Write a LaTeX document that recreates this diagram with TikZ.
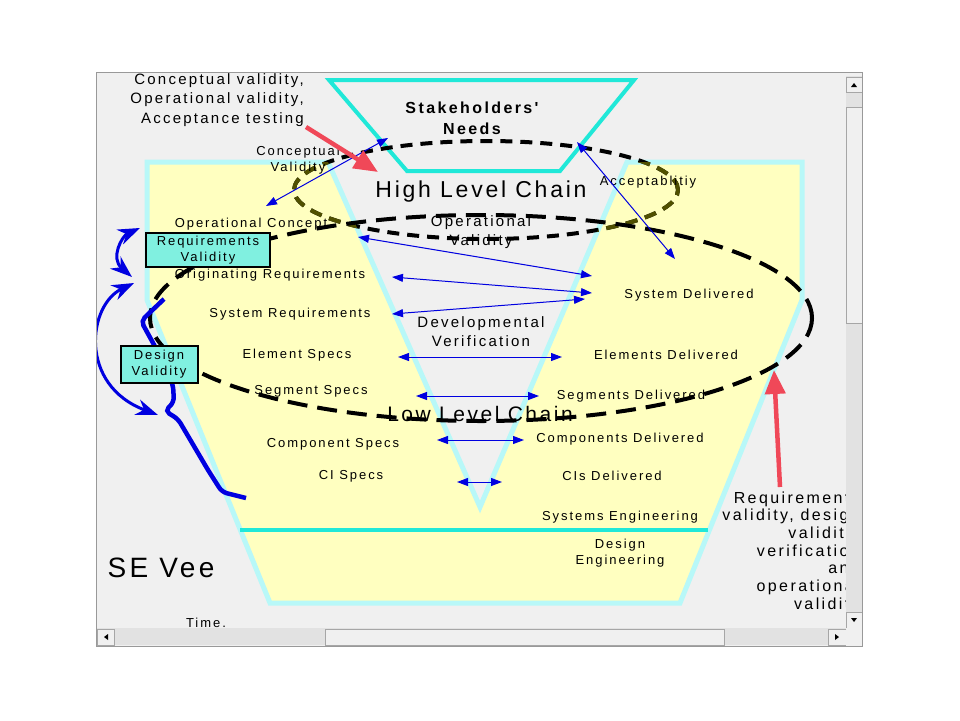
\documentclass[tikz,border=0pt]{standalone}
\usepackage{fontspec}
\setmainfont{Liberation Sans}
\newfontfamily\vfont[LetterSpace=15]{Liberation Sans}
\newfontfamily\vbig[LetterSpace=12]{Liberation Sans}
\usepackage{tikz}
\usetikzlibrary{arrows.meta}

\definecolor{winbg}{HTML}{F0F0F0}
\definecolor{track}{HTML}{E2E2E2}
\definecolor{veeyellow}{HTML}{FFFFC0}
\definecolor{veeedge}{HTML}{B8F8F8}
\definecolor{turq}{HTML}{20E8D8}
\definecolor{boxcyan}{HTML}{80F0E0}
\definecolor{vblue}{HTML}{0000E0}
\definecolor{vred}{HTML}{F04858}
\definecolor{olive}{HTML}{505000}

\begin{document}
\begin{tikzpicture}
    [x = 1pt, y = -1pt,
     txt/.style = {font = \vfont\fontsize{13}{16}\selectfont, align = center, inner sep = 0pt},
     note/.style = {font = \vfont\fontsize{15}{19.5}\selectfont, inner sep = 0pt},
     big/.style = {font = \vbig\fontsize{23}{26}\selectfont, inner sep = 0pt},
     valbox/.style = {txt, draw, line width = 2pt, fill = boxcyan},
     dbl/.style = {vblue, line width = 1pt, {Triangle[length=11pt,width=8pt]}-{Triangle[length=11pt,width=8pt]}},
     redarr/.style = {vred, line width = 4.5pt, -{Triangle[length=24pt,width=20pt]}},
     bluearc/.style = {vblue, line width = 3pt, {Stealth[length=22pt,width=16pt]}-{Stealth[length=22pt,width=16pt]}},
     lowdash/.style = {line width = 4pt, dash pattern = on 20pt off 10pt},
     highdash/.style = {line width = 4pt, dash pattern = on 12pt off 8pt},
     sbar/.style = {fill = winbg, draw = gray!70, line width = 1pt}]
    \fill[white] (0,0) rectangle (960,720);
    \fill[winbg] (96,72) rectangle (862,646);
    \begin{scope}
    \clip (96,72) rectangle (862,646);
    % the vee
    \path[fill = veeyellow, draw = veeedge, line width = 5pt]
        (147,162) -- (328,162) -- (480,507) -- (627,162) -- (802,162) -- (802,300)
        -- (680,603) -- (270,603) -- (147,300) -- cycle;
    \draw[turq, line width = 4pt] (240,530) -- (708,530);
    \draw[turq, line width = 4pt] (329,80) -- (634,80) -- (560,171) -- (407,171) -- cycle;
    % chains
    \draw[highdash] (486,190) ellipse [x radius = 192pt, y radius = 49pt];
    \begin{scope}
        \clip (147,162) -- (328,162) -- (480,507) -- (627,162) -- (802,162) -- (802,300)
            -- (680,603) -- (270,603) -- (147,300) -- cycle;
        \draw[highdash, olive] (486,190) ellipse [x radius = 192pt, y radius = 49pt];
    \end{scope}
    \draw[lowdash] (481,318) ellipse [x radius = 331pt, y radius = 103pt];
    % brace and left arrows
    \draw[vblue, line width = 4.5pt, rounded corners = 5pt]
        (164,299) -- (141,321) -- (158,352) -- (173,385) -- (174,402) -- (165,411)
        -- (178,419) -- (208,470) -- (222,492) -- (246,498);
    \coordinate (ra1) at (132,277);
    \coordinate (ra2) at (140,228);
    \coordinate (da1) at (134,283);
    \coordinate (da2) at (158,415);
    \draw[bluearc] (ra1) .. controls (110,258) and (122,236) .. (ra2);
    \draw[bluearc] (da1) .. controls (88,305) and (78,385) .. (da2);
    % labels
    \node[txt, font = \vfont\bfseries\fontsize{16}{21}\selectfont] (stake) at (472,118) {Stakeholders'\\Needs};
    \node[note, align = right, anchor = east] (topnote) at (304,100) {Conceptual validity,\\Operational validity,\\Acceptance testing};
    \node[txt] (concval) at (298,160) {Conceptual\\Validity};
    \node[big] (hlc) at (481,192) {High Level Chain};
    \node[txt] (accept) at (648,182) {Acceptablitiy};
    \node[txt, font = \vfont\fontsize{15}{19}\selectfont] (opval) at (481,232) {Operational\\Validity};
    \node[txt] (opcon) at (251,224) {Operational Concept};
    \node[valbox, minimum width = 124pt, minimum height = 34pt] (reqval) at (208,250) {Requirements\\Validity};
    \node[txt] (origreq) at (270,275) {Originating Requirements};
    \node[txt] (sysreq) at (290,314) {System Requirements};
    \node[txt, font = \vfont\fontsize{15}{19}\selectfont] (devver) at (481,332) {Developmental\\Verification};
    \node[txt] (sysdel) at (689,295) {System Delivered};
    \node[valbox, minimum width = 77pt, minimum height = 37pt] (desval) at (159,364) {Design\\Validity};
    \node[txt] (elspec) at (297,355) {Element Specs};
    \node[txt] (eldel) at (666,355) {Elements Delivered};
    \node[txt] (segspec) at (311,391) {Segment Specs};
    \node[txt] (segdel) at (631,396) {Segments Delivered};
    \node[big, font = \vbig\fontsize{21}{24}\selectfont] (llc) at (480,414) {Low Level Chain};
    \node[txt] (compspec) at (333,444) {Component Specs};
    \node[txt] (compdel) at (620,439) {Components Delivered};
    \node[txt] (cispec) at (351,476) {CI Specs};
    \node[txt] (cidel) at (612,476) {CIs Delivered};
    \node[txt] (syseng) at (620,517) {Systems Engineering};
    \node[txt] (deseng) at (620,553) {Design\\Engineering};
    \node[big, font = \vbig\fontsize{28}{30}\selectfont] (sevee) at (161,568) {SE Vee};
    \node[txt] (time) at (206,623) {Time.};
    \node[note, align = right, anchor = east, font = \vfont\fontsize{16}{17.7}\selectfont] (rnote) at (860,552)
        {Requirements\\validity, design\\validity,\\verification\\and\\operational\\validity};
    % links across the vee
    \coordinate (cv1) at (266,206);  \coordinate (cv2) at (388,138);
    \coordinate (ac1) at (577,142);  \coordinate (ac2) at (675,259);
    \coordinate (ov1) at (358,237);  \coordinate (ov2) at (592,276);
    \coordinate (or1) at (392,277);  \coordinate (or2) at (592,293);
    \coordinate (sr1) at (392,314);  \coordinate (sr2) at (585,299);
    \coordinate (el1) at (398,357);  \coordinate (el2) at (562,357);
    \coordinate (sg1) at (416,396);  \coordinate (sg2) at (539,396);
    \coordinate (cp1) at (437,440);  \coordinate (cp2) at (524,440);
    \coordinate (ci1) at (457,482);  \coordinate (ci2) at (502,482);
    \foreach \from/ \to in {cv1/cv2,ac1/ac2,ov1/ov2,or1/or2,sr1/sr2,el1/el2,sg1/sg2,cp1/cp2,ci1/ci2}
      \draw[dbl] (\from) -- (\to);
    % red pointers
    \coordinate (rs1) at (306,127);  \coordinate (rp1) at (378,172);
    \coordinate (rs2) at (780,487);  \coordinate (rp2) at (774,370);
    \draw[redarr] (rs1) -- (rp1);
    \draw[redarr] (rs2) -- (rp2);
    \end{scope}
    % scroll bars
    \fill[track] (846,76) rectangle (862,628);
    \fill[track] (97,628) rectangle (846,645);
    \draw[sbar] (846,77) rectangle (862,92);
    \draw[sbar] (846,107) rectangle (862,323);
    \draw[sbar] (846,612) rectangle (862,628);
    \draw[sbar] (97,629) rectangle (114,645);
    \draw[sbar] (325,629) rectangle (724,645);
    \draw[sbar] (828,629) rectangle (846,645);
    \fill[winbg] (846,628) rectangle (862,646);
    \fill (851,87) -- (857,87) -- (854,83) -- cycle;
    \fill (851,618) -- (857,618) -- (854,622) -- cycle;
    \fill (108,634) -- (108,640) -- (104,637) -- cycle;
    \fill (835,634) -- (835,640) -- (839,637) -- cycle;
    \draw[gray!80] (96,72) rectangle (862,646);
\end{tikzpicture}
\end{document}
